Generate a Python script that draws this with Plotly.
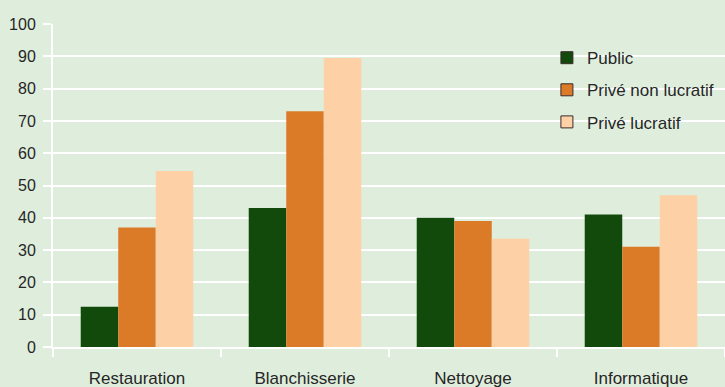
import plotly.graph_objects as go

categories = ["Restauration", "Blanchisserie", "Nettoyage", "Informatique"]
public = [12.5, 43, 40, 41]
prive_non_lucratif = [37, 73, 39, 31]
prive_lucratif = [54.5, 89.5, 33.5, 47]
y_ticks = [0, 10, 20, 30, 40, 50, 60, 70, 80, 90, 100]

series = [
    ("Public", public, "#124a0c"),
    ("Privé non lucratif", prive_non_lucratif, "#db7b28"),
    ("Privé lucratif", prive_lucratif, "#fdd0a6"),
]

bg = "#dfeedc"
fig = go.Figure()
for i, (name, vals, col) in enumerate(series):
    fig.add_trace(go.Bar(
        x=categories, y=vals, name=name, showlegend=False, offsetgroup=str(i),
        marker=dict(color=col, line=dict(width=0)),
    ))
for i, (name, vals, col) in enumerate(series):
    fig.add_trace(go.Bar(
        x=[categories[0]], y=[None], name=name, legendgroup=str(i), offsetgroup=str(i),
        marker=dict(color=col, line=dict(color="#3a2a2a", width=1)),
    ))

fig.update_layout(
    width=725, height=387,
    margin=dict(l=53, r=0, t=24, b=40),
    paper_bgcolor=bg, plot_bgcolor=bg,
    barmode="group", bargap=0.33, bargroupgap=0,
    font=dict(family="Liberation Sans, Arial, sans-serif", size=16, color="#262626"),
    showlegend=True,
    legend=dict(x=0.735, y=0.95, xanchor="left", yanchor="top",
                bgcolor="rgba(0,0,0,0)", tracegroupgap=7, itemwidth=30,
                font=dict(size=17, color="#262626")),
    xaxis=dict(showgrid=False, tickson="boundaries", ticks="outside", ticklen=8,
               tickwidth=2, tickcolor="white", showline=True, linecolor="white",
               linewidth=2, ticklabelstandoff=15, tickfont=dict(size=17)),
    yaxis=dict(range=[0, 100], tickvals=y_ticks, showgrid=True, gridcolor="white",
               gridwidth=2, ticks="outside", ticklen=8, tickwidth=2, tickcolor="white",
               showline=True, linecolor="white", linewidth=2, zeroline=False,
               ticklabelstandoff=4, tickfont=dict(size=16)),
)
fig.write_html("out.html")
